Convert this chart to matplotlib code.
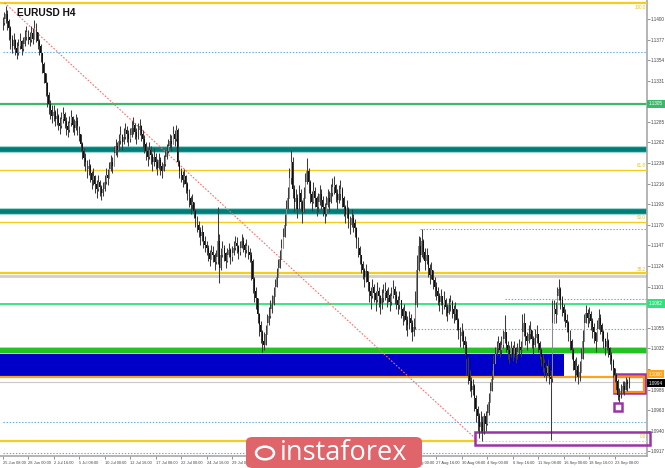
import numpy as np
import matplotlib.pyplot as plt
from matplotlib.patches import Rectangle, FancyBboxPatch, Circle

# prices are kept as pips above BASE
BASE = 1.0900

# H4 closes, highs, lows - one row per 16 bars (one time label)
closes = [
    495, 500, 505, 498, 490, 478, 470, 476, 468, 462, 470, 475, 466, 472, 480, 485,
    480, 476, 484, 478, 490, 486, 475, 470, 462, 450, 440, 428, 415, 405, 398, 392,
    396, 388, 392, 384, 380, 388, 394, 386, 380, 376, 384, 390, 382, 378, 386, 380,
    372, 360, 352, 345, 340, 332, 336, 328, 320, 325, 316, 310, 318, 312, 305, 310,
    318, 326, 322, 332, 340, 336, 350, 358, 354, 364, 370, 362, 368, 376, 372, 366,
    370, 378, 382, 374, 368, 376, 380, 372, 366, 360, 352, 346, 354, 348, 340, 346,
    340, 334, 342, 336, 330, 338, 346, 352, 358, 364, 360, 372, 366, 376, 340, 330,
    326, 320, 324, 316, 308, 300, 292, 296, 286, 278, 270, 264, 258, 262, 252, 248,
    244, 238, 232, 240, 236, 228, 234, 252, 222, 236, 244, 238, 230, 236, 242, 234,
    238, 244, 250, 246, 240, 244, 252, 248, 242, 246, 240, 236, 230, 210, 196, 188,
    170, 158, 150, 140, 136, 148, 160, 168, 176, 182, 190, 200, 212, 222, 232, 244,
    256, 270, 288, 300, 322, 340, 310, 296, 300, 288, 306, 296, 284, 300, 318, 330,
    318, 304, 296, 308, 300, 290, 296, 304, 298, 290, 282, 292, 300, 296, 306, 312,
    314, 306, 298, 304, 310, 300, 290, 282, 288, 276, 270, 278, 272, 266, 254, 244,
    236, 226, 220, 212, 218, 206, 196, 190, 200, 194, 186, 196, 190, 182, 188, 194,
    196, 188, 192, 184, 190, 198, 192, 186, 180, 186, 176, 168, 174, 164, 158, 166,
    160, 150, 156, 180, 220, 246, 236, 252, 240, 230, 236, 222, 214, 220, 208, 200,
    196, 190, 184, 190, 180, 186, 178, 172, 180, 184, 176, 170, 176, 164, 152, 146,
    150, 140, 136, 120, 104, 96, 86, 90, 76, 64, 56, 44, 50, 40, 56, 48,
    60, 72, 84, 98, 114, 126, 132, 138, 130, 136, 142, 150, 136, 130, 126, 132,
    126, 132, 124, 128, 134, 130, 150, 160, 146, 140, 148, 152, 142, 136, 144, 148,
    138, 130, 122, 116, 110, 104, 112, 100, 98, 160, 176, 170, 190, 198, 186, 178,
    172, 164, 160, 150, 140, 130, 118, 108, 112, 100, 106, 120, 140, 160, 172, 166,
    170, 162, 156, 150, 140, 154, 166, 158, 150, 142, 134, 140, 132, 124, 118, 110,
    102, 96, 80, 78, 84, 90, 86, 94, 92, 94,
]
highs = [
    502, 508, 515, 510, 500, 492, 482, 484, 478, 474, 478, 484, 476, 480, 488, 492,
    488, 486, 492, 490, 499, 496, 486, 478, 472, 462, 452, 440, 430, 418, 410, 404,
    404, 398, 400, 394, 390, 396, 402, 396, 390, 386, 392, 398, 392, 388, 394, 390,
    380, 372, 362, 356, 350, 342, 344, 338, 330, 334, 326, 320, 326, 320, 314, 318,
    326, 334, 332, 340, 348, 346, 358, 366, 362, 372, 380, 372, 378, 384, 380, 376,
    378, 386, 390, 384, 378, 384, 388, 382, 376, 370, 362, 356, 362, 358, 350, 356,
    350, 344, 350, 346, 340, 348, 354, 360, 366, 372, 370, 380, 376, 382, 378, 342,
    334, 330, 332, 326, 318, 310, 302, 304, 296, 288, 280, 274, 268, 270, 262, 258,
    252, 248, 242, 248, 246, 238, 242, 290, 260, 244, 252, 248, 240, 244, 250, 244,
    246, 252, 258, 256, 248, 252, 260, 256, 250, 254, 248, 244, 240, 232, 212, 200,
    182, 172, 162, 152, 150, 158, 170, 178, 186, 192, 200, 210, 222, 232, 242, 254,
    266, 282, 298, 312, 334, 354, 346, 314, 310, 304, 314, 310, 298, 312, 328, 345,
    334, 320, 308, 318, 312, 302, 306, 314, 310, 302, 294, 302, 310, 308, 316, 322,
    324, 316, 310, 314, 320, 312, 302, 292, 298, 290, 280, 288, 282, 276, 268, 256,
    246, 236, 230, 222, 226, 216, 206, 200, 210, 204, 196, 206, 200, 192, 198, 204,
    206, 198, 200, 194, 200, 208, 202, 196, 190, 196, 186, 178, 182, 174, 168, 174,
    170, 164, 166, 196, 236, 258, 256, 265, 254, 244, 244, 234, 226, 228, 220, 212,
    206, 200, 194, 198, 190, 196, 188, 182, 188, 192, 186, 180, 184, 176, 166, 156,
    160, 152, 146, 140, 122, 108, 100, 98, 92, 80, 68, 60, 62, 56, 60, 62,
    70, 82, 94, 108, 124, 134, 140, 146, 140, 146, 152, 169, 150, 140, 136, 140,
    136, 140, 134, 138, 142, 140, 170, 171, 160, 150, 158, 162, 152, 146, 154, 158,
    148, 140, 132, 126, 120, 114, 120, 112, 108, 186, 186, 184, 200, 210, 200, 190,
    182, 176, 170, 162, 152, 142, 132, 120, 122, 114, 118, 132, 152, 170, 180, 176,
    178, 174, 166, 160, 150, 164, 176, 170, 160, 152, 144, 150, 142, 134, 128, 120,
    110, 104, 98, 88, 92, 96, 96, 100, 98, 100,
]
lows = [
    488, 493, 496, 488, 476, 466, 462, 466, 460, 455, 460, 466, 460, 464, 470, 476,
    472, 470, 474, 472, 478, 474, 466, 460, 452, 440, 428, 414, 402, 394, 388, 384,
    386, 380, 382, 376, 372, 378, 384, 378, 370, 368, 374, 380, 374, 370, 376, 370,
    364, 352, 344, 336, 330, 322, 326, 318, 310, 314, 306, 300, 308, 302, 298, 302,
    308, 316, 314, 322, 330, 328, 340, 348, 346, 354, 360, 354, 360, 366, 362, 358,
    362, 368, 372, 366, 360, 366, 370, 364, 356, 350, 342, 336, 344, 338, 330, 336,
    332, 326, 332, 326, 322, 330, 336, 344, 350, 356, 352, 362, 358, 364, 336, 322,
    318, 312, 316, 306, 298, 290, 282, 288, 278, 268, 262, 256, 248, 252, 244, 240,
    236, 230, 224, 232, 228, 220, 226, 226, 205, 220, 234, 230, 222, 228, 234, 226,
    230, 236, 242, 238, 232, 236, 244, 240, 234, 238, 232, 228, 208, 194, 184, 176,
    160, 146, 138, 128, 130, 136, 150, 158, 166, 172, 180, 190, 200, 212, 222, 232,
    246, 258, 276, 290, 300, 316, 300, 284, 288, 278, 290, 286, 272, 286, 300, 316,
    306, 294, 286, 294, 290, 280, 284, 292, 288, 280, 272, 280, 290, 286, 294, 302,
    304, 296, 288, 294, 298, 290, 280, 272, 278, 266, 260, 268, 262, 256, 244, 234,
    226, 216, 210, 200, 206, 196, 184, 176, 188, 184, 174, 184, 178, 170, 176, 184,
    186, 178, 184, 174, 180, 188, 182, 176, 170, 176, 166, 158, 162, 152, 146, 154,
    150, 140, 146, 154, 178, 218, 228, 234, 232, 220, 226, 212, 204, 210, 198, 190,
    186, 180, 174, 180, 170, 176, 168, 162, 170, 174, 166, 160, 164, 152, 142, 134,
    140, 132, 124, 102, 92, 84, 78, 80, 62, 50, 40, 32, 38, 28, 36, 40,
    46, 58, 72, 84, 98, 114, 124, 128, 122, 126, 132, 138, 128, 120, 116, 122,
    118, 122, 116, 120, 126, 122, 130, 146, 136, 130, 138, 142, 132, 126, 134, 138,
    128, 120, 112, 106, 100, 96, 102, 92, 30, 94, 160, 160, 170, 186, 176, 168,
    162, 156, 150, 140, 130, 120, 108, 96, 102, 92, 96, 108, 120, 140, 160, 156,
    160, 152, 144, 138, 128, 140, 154, 148, 140, 132, 124, 130, 122, 114, 108, 100,
    94, 86, 74, 72, 76, 82, 80, 86, 84, 88,
]

# labels 10-15 sit under the logo and are not visible
time_labels = [
    "25 Jun 08:00", "28 Jun 00:00", "2 Jul 16:00", "5 Jul 08:00", "10 Jul 00:00",
    "12 Jul 16:00", "17 Jul 08:00", "22 Jul 00:00", "24 Jul 16:00", "29 Jul 08:00",
    "", "", "", "", "",
    "", "23 Aug 00:00", "27 Aug 16:00", "30 Aug 08:00", "4 Sep 00:00",
    "6 Sep 16:00", "11 Sep 08:00", "16 Sep 00:00", "18 Sep 16:00", "23 Sep 08:00",
]
label_every = 16

# fibonacci grid
fibo_high = 1.1418
fibo_low = 1.0929
fibo_ratios = [0.0, 0.382, 0.5, 0.618, 1.0]
fibo_names = ["0.0", "38.2", "50.0", "61.8", "100.0"]

# levels drawn on the chart
teal_levels = [1.1255, 1.1186]
green_level = 1.1305
lightgreen_level = 1.1082
support_level = 1.1030
blue_zone = (1.1001, 1.1027)
orange_level = 1.1000
bid_price = 1.0994
dotted_levels = [1.1363, 1.1165, 1.1087, 1.1054, 1.0950, 1.0915]
dotted_start = [0, 262, 315, 259, 0, 0]

price_ticks = [1.0917 + 0.0023 * k for k in range(22)]

closes = BASE + np.array(closes) / 10000
highs = BASE + np.array(highs) / 10000
lows = BASE + np.array(lows) / 10000
opens = np.r_[closes[0], closes[:-1]]
n = len(closes)
x = np.arange(n)

W, H = 665, 468
fig = plt.figure(figsize=(W / 100, H / 100), dpi=100)
ax = fig.add_axes([0, 12 / H, 647 / W, 456 / H])
ax.set_xlim(-1.57, 404.3)
ax.set_ylim(1.09117, 1.14212)

# objects
ax.add_patch(Rectangle((-2, blue_zone[0]), 354.5, blue_zone[1] - blue_zone[0],
                       color='#0000c8', lw=0, zorder=1))
for lv in teal_levels:
    ax.axhline(lv, color='#9ed6d0', lw=5.0, zorder=2)
    ax.axhline(lv, color='#007d78', lw=3.4, zorder=2)
ax.axhline(green_level, color='#3cb86a', lw=1.6, zorder=2)
ax.axhline(lightgreen_level, color='#2de37c', lw=1.3, zorder=2)
ax.axhline(support_level, color='#9be89b', lw=5.0, zorder=2)
ax.axhline(support_level, color='#22c322', lw=3.6, zorder=2)
ax.axhline(orange_level, color='#ffa31a', lw=1.6, zorder=3)
ax.axhline(bid_price, color='#c8c8c8', lw=0.8, zorder=2)
for lv, st in zip(dotted_levels, dotted_start):
    ax.hlines(lv, st, 410, color='#5aa9f0', lw=0.8, linestyles=(0, (1.2, 1.6)), zorder=2)

# fibonacci
rng = fibo_high - fibo_low
ax.axhline(fibo_low + 0.382 * rng - 0.00025, color='#cfcfcf', lw=2.0, zorder=2)
for r, name in zip(fibo_ratios, fibo_names):
    lv = fibo_low + r * rng
    if r == 0.0:
        ax.hlines(lv, -2, 296.5, color='#f5cd1e', lw=1.6, zorder=3)
        ax.hlines(lv, 296.5, 410, color='#f0dc5a', lw=0.8, linestyles=(0, (1.5, 1.5)), zorder=3)
    else:
        ax.axhline(lv, color='#f5cd1e', lw=1.6 if r in (0.382, 1.0) else 1.0, zorder=3)
    above = r < 1.0
    ax.text(403.5, lv + (0.0002 if above else -0.0002), name, fontsize=3.3,
            color='#e8c21a', ha='right', va='bottom' if above else 'top',
            zorder=6, family='Liberation Sans')
ax.plot([1.3, 298], [fibo_high, fibo_low], color='#ff6d6d', lw=0.8,
        linestyle=(0, (1.5, 1.5)), zorder=3)

# rectangles
purple = '#9a34a6'
ax.add_patch(Rectangle((296.2, 1.0924), 110.2, 0.0014, fill=False, ec=purple,
                       lw=1.8, zorder=4, clip_on=False))
ax.add_patch(Rectangle((383.6, 1.09822), 19.5, 0.00213, fill=False, ec=purple, lw=1.8, zorder=4))
ax.add_patch(Rectangle((384.3, 1.09835), 18.3, 0.00165, fill=False, ec='#ff8c1a', lw=1.6, zorder=4))
ax.add_patch(Rectangle((383.6, 1.0962), 5.0, 0.0009, fill=False, ec=purple, lw=1.8, zorder=4))

# candles
o, c = opens, closes
top = np.maximum(highs, np.maximum(o, c))
bot = np.minimum(lows, np.minimum(o, c))
ax.vlines(x, bot, top, color='#3c3c3c', lw=0.75, zorder=5)
up = c >= o
ax.bar(x[~up], (o - c)[~up], bottom=c[~up], width=0.6, color='#101010', lw=0, zorder=6)
ax.bar(x[up], (c - o)[up], bottom=o[up], width=0.6, color='#8a8a8a', lw=0, zorder=6)

# price boxes on the right scale
boxes = [(green_level, "1.1305", '#3cb86a', 'white'),
         (lightgreen_level, "1.1082", '#2de37c', 'white'),
         (1.10030, "1.1000", '#ffa31a', 'white'),
         (bid_price - 0.0001, "1.0994", '#000000', 'white')]

# axes
for s in ['left', 'top']:
    ax.spines[s].set_visible(False)
for s in ['right', 'bottom']:
    ax.spines[s].set_color('#a8a8a8')
    ax.spines[s].set_linewidth(1.2)
ax.yaxis.tick_right()
ax.set_yticks(price_ticks)
# scale labels hidden behind a price box are left blank
tick_text = []
for p in price_ticks:
    hidden = any(abs(p - b[0]) < 0.0006 for b in boxes)
    tick_text.append("" if hidden else f"{p:.4f}")
ax.set_yticklabels(tick_text, fontsize=3.3, family='Liberation Sans', color='#444444')
ax.tick_params(axis='y', length=2, width=0.5, pad=1, color='#666666')
ax.set_xticks(x[::label_every])
ax.set_xticklabels(time_labels, fontsize=2.9, family='Liberation Sans',
                   color='#444444', ha='left')
ax.tick_params(axis='x', length=2, width=0.5, pad=1.5, color='#666666')

for lv, txt, bg, fg in boxes:
    ax.text(1.003, lv, txt, transform=ax.get_yaxis_transform(), fontsize=3.3,
            family='Liberation Sans', color=fg, va='center', ha='left', zorder=10,
            clip_on=False, bbox=dict(boxstyle='square,pad=0.35', fc=bg, ec='none'))

ax.text(17 / 647, 1 - 12.5 / 456, "EURUSD H4", fontsize=7.3, fontweight='bold',
        family='Liberation Sans', color='#111111', va='center', ha='left',
        transform=ax.transAxes, zorder=10)

# logo
def fx(px):
    return px / W

def fy(py):
    return 1 - py / H

logo = FancyBboxPatch((fx(246), fy(468)), fx(422) - fx(246), fy(437) - fy(468),
                      boxstyle='round,pad=0,rounding_size=0.01', transform=fig.transFigure,
                      fc='#e0656b', ec='none', zorder=20)
fig.add_artist(logo)
fig.add_artist(Circle((fx(265), fy(453)), 0.0135, transform=fig.transFigure,
                      fill=False, ec='white', lw=1.8, zorder=21))
fig.text(fx(280), fy(453), "instaforex", fontsize=19.5, color='white', family='Open Sans',
         va='center', ha='left', zorder=22)

fig.savefig('out.png', dpi=100, facecolor='white')
